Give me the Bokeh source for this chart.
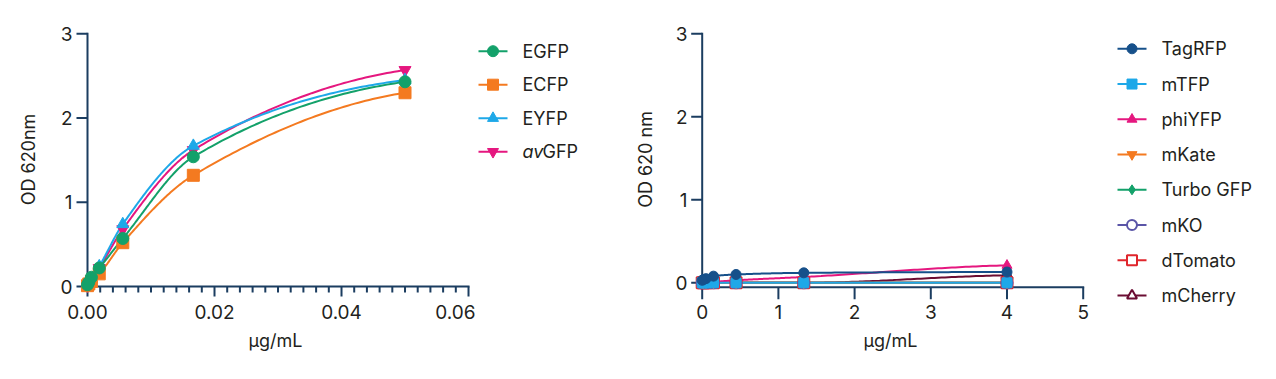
import numpy as np
from bokeh.plotting import figure
from bokeh.layouts import row
from bokeh.models import Range1d, FixedTicker, NumeralTickFormatter
from bokeh.embed import file_html
from bokeh.resources import INLINE
from bokeh.core.properties import value

FONT = "Inter"
AX = "#1b3d60"
TXT = "#231f20"

# ---------------- data: left panel ----------------
conc_left = [0.05, 0.016667, 0.005556, 0.001852, 0.000617, 0.000206, 0.0]
egfp = [2.43, 1.54, 0.57, 0.22, 0.11, 0.05, 0.02]
ecfp = [2.30, 1.32, 0.52, 0.15, 0.06, 0.03, 0.01]
eyfp = [2.45, 1.67, 0.74, 0.24, 0.09, 0.04, 0.02]
avgfp = [2.57, 1.62, 0.68, 0.22, 0.08, 0.03, 0.01]
left_names = ["EGFP", "ECFP", "EYFP", "avGFP"]
left_series = [egfp, ecfp, eyfp, avgfp]
left_colors = ["#13a16a", "#f47a20", "#1ea8e8", "#e5177f"]
left_markers = ["circle", "square", "triangle", "inverted_triangle"]
left_xticks = [0.0, 0.02, 0.04, 0.06]
left_xminor_step = 0.002
left_yticks = [0, 1, 2, 3]

# ---------------- data: right panel ----------------
conc_right = [4.0, 1.3333, 0.4444, 0.1481, 0.0494, 0.0165, 0.0]
tagrfp = [0.13, 0.12, 0.10, 0.08, 0.05, 0.04, 0.03]
mtfp = [0.0, 0.0, 0.0, 0.0, 0.0, 0.0, 0.0]
phiyfp = [0.21, 0.07, 0.03, 0.01, 0.0, 0.0, 0.0]
mkate = [0.0, 0.0, 0.0, 0.0, 0.0, 0.0, 0.0]
turbogfp = [0.0, 0.0, 0.0, 0.0, 0.0, 0.0, 0.0]
mko = [0.0, 0.0, 0.0, 0.0, 0.0, 0.0, 0.0]
dtomato = [0.0, 0.0, 0.0, 0.0, 0.0, 0.0, 0.0]
mcherry = [0.09, 0.0, 0.0, 0.0, 0.0, 0.0, 0.0]
right_names = ["TagRFP", "mTFP", "phiYFP", "mKate", "Turbo GFP", "mKO", "dTomato", "mCherry"]
right_series = [tagrfp, mtfp, phiyfp, mkate, turbogfp, mko, dtomato, mcherry]
right_colors = ["#16508a", "#1ea8e8", "#e5177f", "#f47a20", "#13a16a", "#5a55a7", "#e0262c", "#6b0d33"]
right_markers = ["circle", "square", "triangle", "inverted_triangle", "diamond", "circle", "square", "triangle"]
right_open = [False, False, False, False, False, True, True, True]
right_xticks = [0, 1, 2, 3, 4, 5]
right_yticks = [0, 1, 2, 3]
right_xaxis_at = -0.053

# frame geometry (page pixels) shared by both plots
TOP, BOTTOM = 18, 79
FRAME_H = 379 - TOP - BOTTOM


def smooth(xs, ys, n=60, end_frac=0.4):
    """Monotone cubic (PCHIP-like) path through the data points, for drawing the line."""
    x = np.asarray(xs, float)
    y = np.asarray(ys, float)
    o = np.argsort(x)
    x, y = x[o], y[o]
    h = np.diff(x)
    d = np.diff(y) / h
    m = np.zeros_like(x)
    for k in range(1, len(x) - 1):
        if d[k - 1] * d[k] <= 0:
            m[k] = 0.0
        else:
            w1 = 2 * h[k] + h[k - 1]
            w2 = h[k] + 2 * h[k - 1]
            m[k] = (w1 + w2) / (w1 / d[k - 1] + w2 / d[k])
    m[0] = d[0]
    m[-1] = end_frac * d[-1]
    px, py = [], []
    for k in range(len(x) - 1):
        t = np.linspace(0, 1, n)
        h00 = 2 * t**3 - 3 * t**2 + 1
        h10 = t**3 - 2 * t**2 + t
        h01 = -2 * t**3 + 3 * t**2
        h11 = t**3 - t**2
        px.extend(x[k] + t * h[k])
        py.extend(h00 * y[k] + h10 * h[k] * m[k] + h01 * y[k + 1] + h11 * h[k] * m[k + 1])
    return px, py


def base_fig(width, left, xr, yr, xlabel, ylabel, ylabel_standoff):
    p = figure(width=width, height=379, x_range=xr, y_range=yr,
               output_backend="svg", toolbar_location=None,
               min_border_left=left, min_border_right=0,
               min_border_top=TOP, min_border_bottom=BOTTOM)
    p.outline_line_color = None
    p.grid.visible = False
    # Bokeh axes supply tick labels and titles; axis lines/ticks are drawn in the frame
    for ax in [p.xaxis[0], p.yaxis[0]]:
        ax.axis_line_color = None
        ax.major_tick_line_color = None
        ax.minor_tick_line_color = None
        ax.major_tick_in = 0
        ax.major_tick_out = 0
        ax.minor_tick_in = 0
        ax.minor_tick_out = 0
        ax.major_label_text_font = FONT
        ax.major_label_text_font_size = "19px"
        ax.major_label_text_color = TXT
        ax.axis_label_text_font = FONT
        ax.axis_label_text_font_size = "18px"
        ax.axis_label_text_font_style = "normal"
        ax.axis_label_text_color = TXT
    p.xaxis.axis_label = xlabel
    p.yaxis.axis_label = ylabel
    p.yaxis.major_label_standoff = 3
    p.xaxis.major_label_standoff = 4
    p.xaxis.axis_label_standoff = 8
    p.yaxis.axis_label_standoff = ylabel_standoff
    return p


def draw_axes(p, xr, yr, frame_w, xticks, yticks, x_at, y_at, xminor=(), xmajor_len=12):
    """Axis lines and outward ticks, built from the tick lists."""
    dx = (xr.end - xr.start) / frame_w      # data units per pixel (x)
    dy = (yr.end - yr.start) / FRAME_H      # data units per pixel (y)
    p.segment([x_at], [y_at], [x_at], [max(yticks)], line_color=AX, line_width=2, line_cap="square")
    p.segment([x_at], [y_at], [max(xticks)], [y_at], line_color=AX, line_width=2, line_cap="square")
    p.segment([x_at] * len(yticks), yticks, [x_at - 11 * dx] * len(yticks), yticks,
              line_color=AX, line_width=2)
    p.segment(xticks, [y_at] * len(xticks), xticks, [y_at - xmajor_len * dy] * len(xticks),
              line_color=AX, line_width=2)
    if len(xminor):
        p.segment(list(xminor), [y_at] * len(xminor), list(xminor), [y_at - 6 * dy] * len(xminor),
                  line_color=AX, line_width=2)


# ---------------- left plot ----------------
# page: x=0 at 87px, x=0.06 at 468px; y=0 at 286px, y=3 at 33.3px
xr1 = Range1d(-0.00189, 0.0611)
yr1 = Range1d(-0.1662, 3.1816)
p1 = base_fig(475, 75, xr1, yr1, "µg/mL", "OD 620nm", 19)
p1.xaxis.ticker = FixedTicker(ticks=left_xticks)
p1.yaxis.ticker = FixedTicker(ticks=left_yticks)
p1.xaxis.formatter = NumeralTickFormatter(format="0.00")
n_small = int(round(left_xticks[-1] / left_xminor_step))
minor_left = [round(i * left_xminor_step, 4) for i in range(n_small + 1)]
minor_left = [m for m in minor_left if all(abs(m - t) > 1e-9 for t in left_xticks)]
draw_axes(p1, xr1, yr1, 400, left_xticks, left_yticks, 0.0, 0.0, minor_left, 10)

for ser, col in reversed(list(zip(left_series, left_colors))):
    lx, ly = smooth(conc_left, ser)
    p1.line(lx, ly, line_color=col, line_width=2)
for ser, col, mk in reversed(list(zip(left_series, left_colors, left_markers))):
    p1.scatter(conc_left, ser, marker=mk, size=12, fill_color=col, line_color=col, line_width=1)

# ---------------- right plot ----------------
# page: x=0 at 701.7px, x=5 at 1082.7px; y=0 at 282.3px, y=3 at 33.3px
xr2 = Range1d(-0.1535, 5.0958)
yr2 = Range1d(-0.2133, 3.1843)
p2 = base_fig(470, 70, xr2, yr2, "µg/mL", "OD 620 nm", 17)
p2.xaxis.ticker = FixedTicker(ticks=right_xticks)
p2.yaxis.ticker = FixedTicker(ticks=right_yticks)
draw_axes(p2, xr2, yr2, 400, right_xticks, right_yticks, 0.0, right_xaxis_at)

items = list(zip(right_series, right_colors, right_markers, right_open))
for ser, col, mk, op in reversed(items):
    lx, ly = smooth(conc_right, ser)
    p2.line(lx, ly, line_color=col, line_width=2)
for ser, col, mk, op in reversed(items):
    if op:
        p2.scatter(conc_right, ser, marker=mk, size=11, fill_color="white", line_color=col, line_width=2)
    else:
        p2.scatter(conc_right, ser, marker=mk, size=10, fill_color=col, line_color=col, line_width=1)


# ---------------- legends (drawn as glyphs, page-pixel coordinates) ----------------
def legend_fig(width, names, colors, markers, opens, x0, x1, xt, y0, dy, msize):
    lg = figure(width=width, height=379, x_range=Range1d(0, width),
                y_range=Range1d(379, 0),
                output_backend="svg", toolbar_location=None,
                x_axis_location=None, y_axis_location=None,
                min_border=0, frame_align=False)
    lg.outline_line_color = None
    lg.grid.visible = False
    for i, (nm, col, mk, op) in enumerate(zip(names, colors, markers, opens)):
        yy = y0 + i * dy
        lg.line([x0, x1], [yy, yy], line_color=col, line_width=2)
        lg.scatter([(x0 + x1) / 2], [yy], marker=mk, size=msize,
                   fill_color="white" if op else col, line_color=col, line_width=2 if op else 1)
        if nm == "avGFP":
            lg.text([xt], [yy], text=["av"], text_font=value(FONT), text_font_size="18px",
                    text_font_style="italic", text_baseline="middle", text_color=TXT)
            lg.text([xt + 20], [yy], text=["GFP"], text_font=value(FONT), text_font_size="18px",
                    text_baseline="middle", text_color=TXT)
        else:
            lg.text([xt], [yy], text=[nm], text_font=value(FONT), text_font_size="18px",
                    text_baseline="middle", text_color=TXT)
    return lg


lg1 = legend_fig(145, left_names, left_colors, left_markers, [False] * 4,
                 3, 32, 47, 50.7, 33.5, 11)
lg2 = legend_fig(186, right_names, right_colors, right_markers, right_open,
                 27, 56, 71, 48.3, 35.25, 10)

layout = row(p1, lg1, p2, lg2)
open("out.html", "w").write(file_html(layout, INLINE))
